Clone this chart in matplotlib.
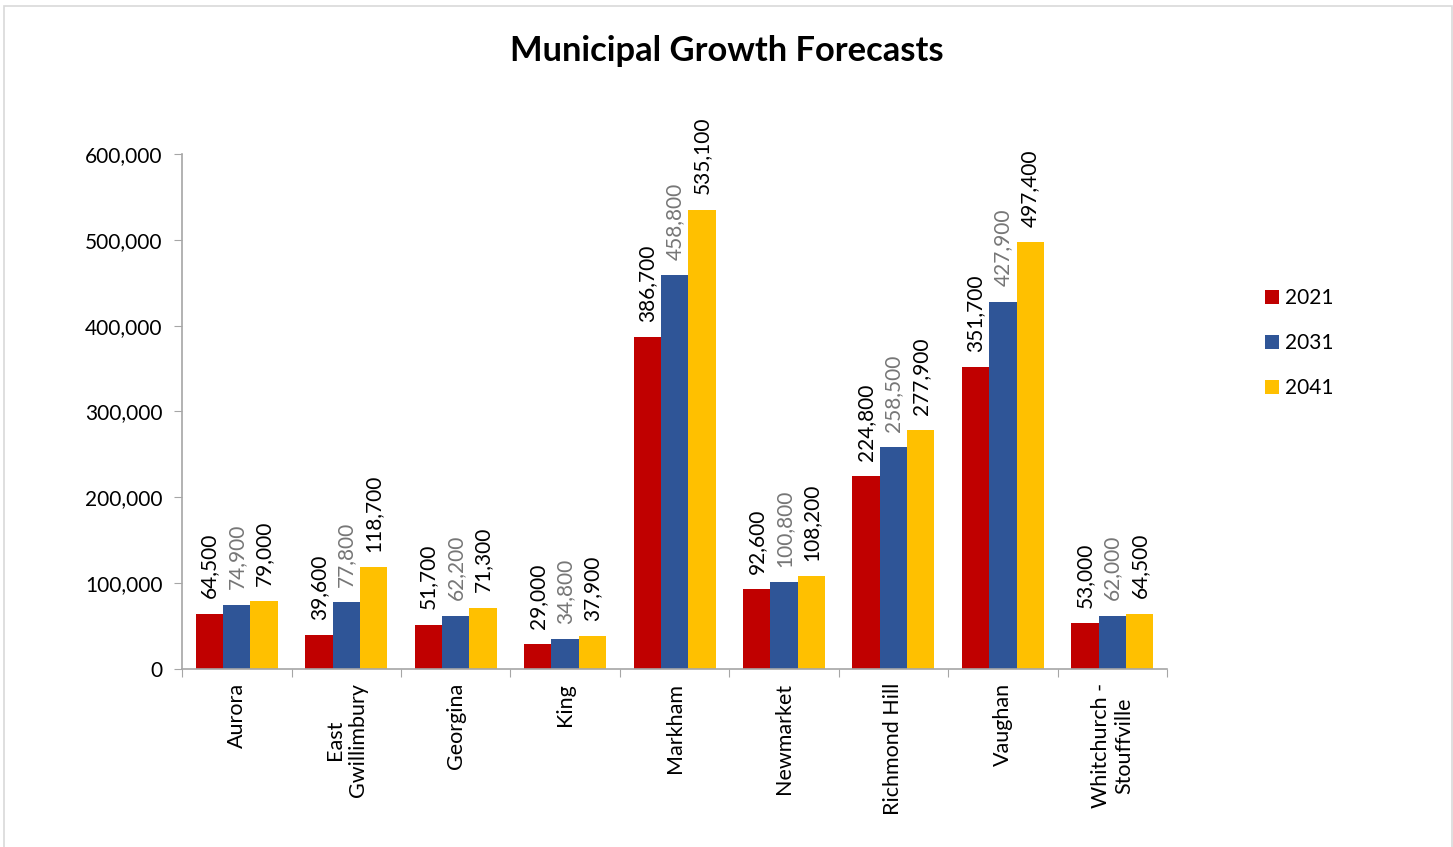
import matplotlib.pyplot as plt
import numpy as np

plt.rcParams['font.family'] = ['Lato', 'DejaVu Sans']

municipalities = ["Aurora", "East\nGwillimbury", "Georgina", "King", "Markham",
                  "Newmarket", "Richmond Hill", "Vaughan", "Whitchurch -\nStouffville"]
years = ["2021", "2031", "2041"]
pop2021 = [64500, 39600, 51700, 29000, 386700, 92600, 224800, 351700, 53000]
pop2031 = [74900, 77800, 62200, 34800, 458800, 100800, 258500, 427900, 62000]
pop2041 = [79000, 118700, 71300, 37900, 535100, 108200, 277900, 497400, 64500]

colors = ["#C00000", "#2F5597", "#FFC000"]
label_colors = ["black", "#767676", "black"]

fig = plt.figure(figsize=(14.53, 8.47), dpi=100)
ax = fig.add_axes([0.1253, 0.2102, 0.6779, 0.608])

x = np.arange(len(municipalities))
w = 0.25
for k, vals in enumerate([pop2021, pop2031, pop2041]):
    bars = ax.bar(x + (k - 1) * w, vals, w, color=colors[k], label=years[k])
    for b, v in zip(bars, vals):
        ax.annotate(f"{v:,}", (b.get_x() + b.get_width() / 2, v),
                    xytext=(0, 11), textcoords="offset points",
                    rotation=90, ha="center", va="bottom",
                    fontsize=15, color=label_colors[k])

ax.set_xlim(-0.5, len(municipalities) - 0.5)
ax.set_ylim(0, 600000)
ax.set_yticks(np.arange(0, 600001, 100000))
ax.set_yticklabels([f"{v:,}" for v in range(0, 600001, 100000)], fontsize=15)

# ticks sit between categories, names go in the middle
ax.set_xticks(np.arange(-0.5, len(municipalities), 1))
ax.set_xticklabels([])
ax.set_xticks(x, minor=True)
ax.set_xticklabels(municipalities, minor=True, rotation=90, fontsize=15.5,
                   ha="center", va="top", multialignment="center")
ax.tick_params(axis="x", which="minor", length=0, pad=10)
ax.tick_params(axis="x", which="major", length=6, color="#A6A6A6")
ax.tick_params(axis="y", length=6, color="#A6A6A6", pad=8)

for s in ["top", "right"]:
    ax.spines[s].set_visible(False)
for s in ["left", "bottom"]:
    ax.spines[s].set_color("#A6A6A6")
    ax.spines[s].set_linewidth(1.2)

fig.text(0.5, 0.94, "Municipal Growth Forecasts", ha="center", va="center",
         fontsize=24.8, fontweight="bold")

ax.legend(loc="center left", bbox_to_anchor=(1.08, 0.632), frameon=False,
          fontsize=15, handlelength=0.7, handleheight=0.7,
          labelspacing=1.2, handletextpad=0.3)

# thin frame round the whole chart
fig.patches.append(plt.Rectangle((0.003, -0.01), 0.996, 1.003, transform=fig.transFigure,
                                 fill=False, edgecolor="#D9D9D9", linewidth=1.2))

fig.savefig("out.png", dpi=100)
